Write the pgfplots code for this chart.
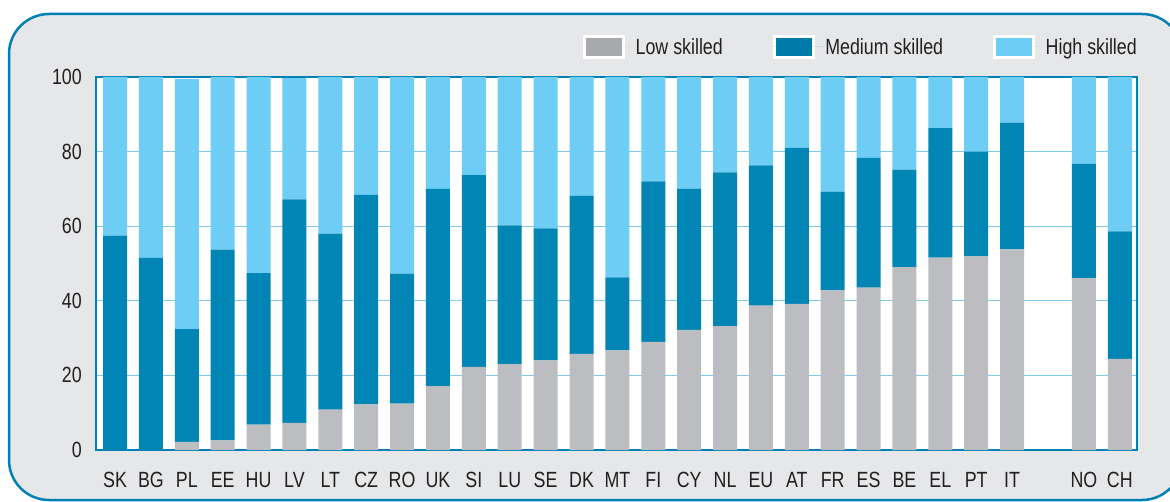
\documentclass[border=0pt]{standalone}
\usepackage{pgfplots}
\pgfplotsset{compat=1.18}
\usepackage{pgfplotstable}
\usepackage{fontspec}
\setmainfont{Liberation Sans}[FakeStretch=0.81]
\definecolor{lowc}{HTML}{BCBDC1}
\definecolor{medc}{HTML}{0085B5}
\definecolor{highc}{HTML}{6DCDF4}
\definecolor{lowl}{HTML}{A8A9AD}
\definecolor{medl}{HTML}{007AA8}
\definecolor{panel}{HTML}{E6E7E9}
\definecolor{framec}{HTML}{0080B3}
\definecolor{gridc}{HTML}{7FC9EA}
\definecolor{txt}{HTML}{231F20}

\pgfplotstableread{
x low med high
0 0 57.5 42.5
1 0 51.5 48.5
2 2.2 30.2 67.1
3 2.6 51.1 46.3
4 6.8 40.6 52.6
5 7.3 59.9 32.5
6 10.8 47.2 42.0
7 12.2 56.2 31.6
8 12.4 34.9 52.7
9 17.1 52.9 30.0
10 22.3 51.4 26.3
11 23.0 37.2 39.8
12 24.0 35.4 40.6
13 25.8 42.4 31.8
14 26.7 19.6 53.7
15 29.0 43.0 28.0
16 32.2 37.8 30.0
17 33.2 41.2 25.6
18 38.7 37.6 23.7
19 39.2 41.8 19.0
20 42.8 26.5 30.7
21 43.5 34.8 21.7
22 49.0 26.2 24.8
23 51.6 34.7 13.7
24 51.9 28.1 20.0
25 53.8 34.0 12.2
27 46.1 30.6 23.3
28 24.4 34.2 41.4
}\data

\newcommand{\f}{\fontsize{22}{26}\selectfont}

\begin{document}
\begin{tikzpicture}
\useasboundingbox (0,0) rectangle (1170pt,501pt);
\draw[framec, line width=2.5pt, fill=panel, rounded corners=40pt] (9pt,1pt) rectangle (1182pt,487pt);
\begin{axis}[
  at={(96pt,51pt)}, anchor=south west,
  scale only axis, width=1041pt, height=373pt,
  xmin=-0.53, xmax=28.48, ymin=0, ymax=100,
  ybar stacked, bar width=24pt,
  axis background/.style={fill=white},
  axis line style={framec, line width=2.5pt},
  ymajorgrids, grid style={gridc, line width=1.2pt},
  major tick length=0pt,
  ytick={0,20,40,60,80,100},
  xtick={0,1,2,3,4,5,6,7,8,9,10,11,12,13,14,15,16,17,18,19,20,21,22,23,24,25,27,28},
  xticklabels={SK,BG,PL,EE,HU,LV,LT,CZ,RO,UK,SI,LU,SE,DK,MT,FI,CY,NL,EU,AT,FR,ES,BE,EL,PT,IT,NO,CH},
  /pgf/number format/assume math mode=true,
  tick label style={font=\f, text=txt},
  yticklabel style={anchor=east, inner sep=0pt, xshift=-14pt},
  xticklabel style={anchor=north, inner sep=0pt, yshift=-22pt},
  legend style={at={(1,1)}, anchor=east, yshift=30pt, xshift=2pt, draw=none, fill=none,
    font=\f, text=txt, inner sep=0pt,
    /tikz/every even column/.append style={column sep=48pt}},
  legend columns=3,
  legend cell align=left,
]
\addplot[fill=lowc, draw=none, legend image code/.code={\draw[white,line width=3pt,fill=lowl] (0pt,-10.5pt) rectangle (39pt,10.5pt); \path (-1.5pt,0pt) -- (49pt,0pt);}] table[x=x,y=low]{\data};
\addplot[fill=medc, draw=none, legend image code/.code={\draw[white,line width=3pt,fill=medl] (0pt,-10.5pt) rectangle (39pt,10.5pt); \path (-1.5pt,0pt) -- (49pt,0pt);}] table[x=x,y=med]{\data};
\addplot[fill=highc, draw=none, legend image code/.code={\draw[white,line width=3pt,fill=highc] (0pt,-10.5pt) rectangle (39pt,10.5pt); \path (-1.5pt,0pt) -- (49pt,0pt);}] table[x=x,y=high]{\data};
\legend{Low skilled, Medium skilled, High skilled}
\end{axis}
\end{tikzpicture}
\end{document}
